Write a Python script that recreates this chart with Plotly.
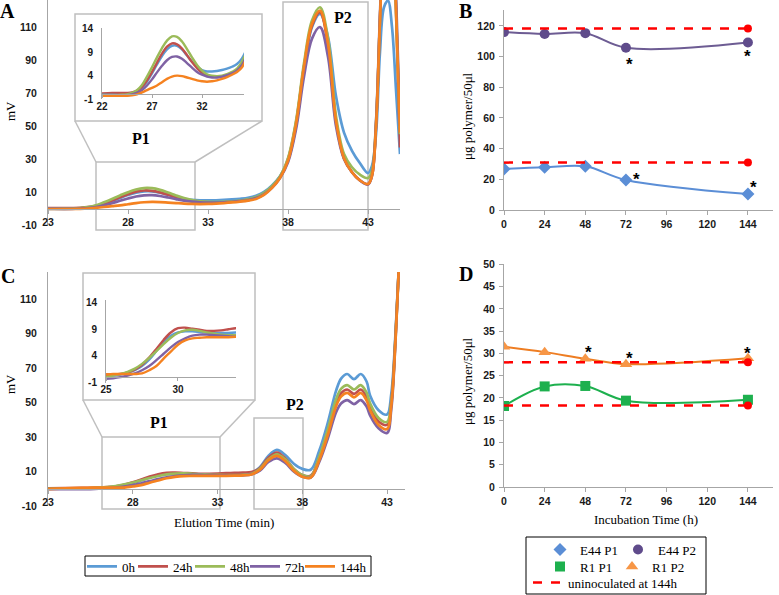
import plotly.graph_objects as go

W, H = 779, 595

# ---------------- data ----------------
time_labels = ["0h", "24h", "48h", "72h", "144h"]

# Panel A: elution profiles (min, mV)
elution_a = [22, 23, 24, 24.5, 25, 25.5, 26, 26.5, 27, 27.5, 28, 28.5, 29, 29.5, 30, 30.5, 31, 31.5,
             32, 32.5, 33, 33.5, 34, 34.5, 35, 35.5, 36, 36.5, 37, 37.5, 38, 38.5, 39, 39.5, 40, 40.5,
             41, 41.5, 42, 42.5, 43, 43.25, 43.5, 43.75, 44, 44.25, 44.5, 44.75, 45]
a_0h = [-0.2, -0.2, -0.2, -0.1, 0.1, 0.5, 1.3, 2.7, 4.5, 6.4, 8.2, 9.6, 10.4, 10.4, 9.6, 8.3, 7.0, 5.9,
        5.2, 4.9, 4.9, 5.0, 5.2, 5.5, 5.9, 6.5, 7.7, 10.0, 14, 19.5, 29, 50, 84, 110, 118, 104,
        68, 46, 35, 27.4, 21.5, 26, 45, 95, 122, 126, 110, 72, 33]
a_24h = [0.2, 0.3, 0.3, 0.3, 0.4, 0.8, 1.6, 3.0, 4.8, 6.8, 8.7, 10.2, 10.9, 10.7, 9.8, 8.4, 6.9, 5.6,
         4.6, 4.1, 3.8, 3.7, 3.8, 4.1, 4.5, 5.2, 6.5, 9.0, 13, 19, 30, 52, 86, 111, 119, 99,
         53, 30.5, 22, 17, 14.8, 20, 50, 115, 175, 200, 185, 120, 37]
a_48h = [0.0, -0.1, -0.1, 0.0, 0.3, 0.9, 2.0, 3.8, 5.8, 7.9, 9.9, 11.5, 12.4, 12.3, 11.3, 9.7, 7.9, 6.3,
         5.1, 4.3, 4.0, 3.9, 4.0, 4.3, 4.8, 5.5, 7.0, 9.4, 13.5, 19.5, 30.5, 53, 88, 114, 122, 103,
         56, 33, 25, 20.5, 18.5, 23, 52, 115, 175, 200, 185, 120, 45]
a_72h = [-0.1, -0.1, -0.2, -0.2, 0.0, 0.3, 0.9, 1.9, 3.2, 4.7, 6.1, 7.3, 8.0, 8.1, 7.6, 6.7, 5.7, 4.8,
         4.2, 3.8, 3.6, 3.6, 3.8, 4.1, 4.5, 5.1, 6.3, 8.6, 12.5, 18.5, 28, 48, 80, 103, 110, 92,
         50, 30, 22, 17, 14.5, 20, 52, 118, 178, 205, 190, 130, 50]
a_144h = [-0.3, -0.3, -0.3, -0.3, -0.2, 0.0, 0.4, 0.9, 1.4, 1.9, 2.6, 3.3, 3.8, 4.0, 3.9, 3.6, 3.3, 3.0,
          2.8, 2.7, 2.8, 3.0, 3.3, 3.7, 4.2, 4.8, 5.8, 8.2, 12.5, 18.5, 29, 51, 86, 112, 120, 100,
          53, 30.5, 22, 17, 14.8, 20, 50, 115, 175, 200, 185, 122, 46]

# Panel C: elution profiles (min, mV)
elution_c = [23, 24, 25, 25.5, 26, 26.5, 27, 27.5, 28, 28.5, 29, 29.5, 30, 30.5, 31, 31.5, 32, 32.5,
             33, 33.5, 34, 34.5, 35, 35.5, 36, 36.5, 37, 37.5, 38, 38.5, 39, 39.5, 40, 40.3, 40.65,
             41.05, 41.45, 41.8, 42, 42.5, 43, 43.25, 43.5, 43.75, 44, 44.25]
c_0h = [0, 0, 0.2, 0.3, 0.5, 0.8, 1.3, 2.1, 3.3, 4.9, 6.6, 7.8, 8.4, 8.6, 8.6, 8.5, 8.4, 8.3,
        8.3, 8.3, 8.4, 8.6, 9.2, 12.5, 19, 22.5, 19.5, 14.5, 11.5, 11, 22, 38, 57, 64, 66.5,
        63.5, 66.5, 62, 54, 45.5, 43, 55, 90, 140, 190, 230]
c_24h = [0.3, 0.4, 0.5, 0.5, 0.6, 0.9, 1.4, 2.3, 3.7, 5.3, 7.0, 8.4, 9.2, 9.3, 9.1, 8.9, 8.7, 8.7,
         8.8, 9.0, 9.2, 9.3, 9.6, 12, 18, 21, 17.5, 11.5, 8, 7.5, 18, 33, 50, 55.5, 57.5,
         55, 57.5, 53, 47, 39, 37, 50, 88, 140, 190, 230]
c_48h = [0, 0, 0.1, 0.3, 0.6, 1.0, 1.6, 2.5, 3.6, 4.9, 6.2, 7.4, 8.3, 8.8, 8.9, 8.7, 8.4, 8.2,
         8.0, 7.9, 7.9, 8.1, 8.6, 11.5, 17, 20, 17, 11.5, 8, 7.2, 18.5, 34, 52, 58, 60,
         57.5, 60, 55.5, 49.5, 41, 38.7, 50, 88, 140, 190, 230]
c_72h = [-0.3, -0.3, -0.3, -0.2, 0, 0.3, 0.7, 1.3, 2.1, 3.2, 4.4, 5.6, 6.6, 7.3, 7.8, 8.0, 8.0, 7.9,
         7.8, 7.7, 7.6, 7.8, 8.3, 10.5, 15.5, 17.6, 15, 10, 7, 6.5, 15.5, 29, 44.5, 49.5, 51.4,
         49, 51.4, 47.5, 42.5, 35, 32.3, 46, 86, 140, 190, 230]
c_144h = [-0.2, 0.2, 0.5, 0.6, 0.6, 0.6, 0.6, 0.7, 1.3, 2.1, 3.5, 4.8, 6.1, 6.9, 7.3, 7.4, 7.5, 7.5,
          7.5, 7.5, 7.6, 7.8, 8.3, 11, 16.5, 19, 16, 10.5, 7, 6.5, 16.5, 31, 48, 53.5, 55.5,
          53, 55.5, 51, 45.5, 37, 34.6, 48, 86, 140, 190, 230]

# Panels B and D: polymer content (h, ug/50ul)
hours = [0, 24, 48, 72, 144]
e44_p1 = [26.7, 27.8, 28.5, 19.6, 10.4]
e44_p2 = [116.0, 114.8, 115.3, 105.8, 109.2]
r1_p1 = [18.2, 22.6, 22.7, 19.4, 19.6]
r1_p2 = [31.5, 30.3, 28.8, 27.6, 28.9]
uninoc_hours = [0, 144]
uninoc_b_p1 = 30.9
uninoc_b_p2 = 118.3
uninoc_d_p1 = 18.3
uninoc_d_p2 = 28.0
star_b_x = [73.8, 144, 78, 147]
star_b_y = [97.8, 102.4, 22.8, 17.0]
star_d_x = [49.6, 73.8, 143.5]
star_d_y = [31.2, 29.7, 30.8]

xt_elution = [23, 28, 33, 38, 43]
yt_elution = [-10, 10, 30, 50, 70, 90, 110]
yt_elution_text = ["-10", "10", "30", "50", "70", "90", "110"]
xt_inset_a = [22, 27, 32]
xt_inset_c = [25, 30]
yt_inset = [-1, 4, 9, 14]
yt_inset_text = ["-1", "4", "9", "14"]
xt_hours = [0, 24, 48, 72, 96, 120, 144]
yt_b = [0, 20, 40, 60, 80, 100, 120]
yt_d = [0, 5, 10, 15, 20, 25, 30, 35, 40, 45, 50]

# ---------------- styling ----------------
series_colors = ["#5B9BD5", "#C0504D", "#9BBB59", "#7F62A4", "#F58220"]
SERIF = "Liberation Serif"
SANS = "Liberation Sans"
AXC = "#A6A6A6"
tickfont = dict(family=SANS, size=10.5, color="#1a1a1a", weight="bold")
tickfont_s = dict(family=SANS, size=10, color="#1a1a1a", weight="bold")


def fx(px):
    return px / W


def fy(py):
    return 1 - py / H


def zero_pos(dom, rng):
    return dom[0] + (0 - rng[0]) / (rng[1] - rng[0]) * (dom[1] - dom[0])


fig = go.Figure()

a_series = [a_0h, a_24h, a_48h, a_72h, a_144h]
c_series = [c_0h, c_24h, c_48h, c_72h, c_144h]
time_legends = ["legend", "legend5", "legend6", "legend7", "legend8"]
for i, lab in enumerate(time_labels):
    col = series_colors[i]
    fig.add_trace(go.Scatter(x=elution_a, y=a_series[i], mode="lines", name=lab,
                             line=dict(color=col, width=2.7, shape="spline"),
                             xaxis="x", yaxis="y", legend=time_legends[i], showlegend=True))
    fig.add_trace(go.Scatter(x=elution_a, y=a_series[i], mode="lines", name=lab,
                             line=dict(color=col, width=2.4, shape="spline"),
                             xaxis="x2", yaxis="y2", showlegend=False))
    fig.add_trace(go.Scatter(x=elution_c, y=c_series[i], mode="lines", name=lab,
                             line=dict(color=col, width=2.7, shape="spline"),
                             xaxis="x3", yaxis="y3", showlegend=False))
    fig.add_trace(go.Scatter(x=elution_c, y=c_series[i], mode="lines", name=lab,
                             line=dict(color=col, width=2.4, shape="spline"),
                             xaxis="x4", yaxis="y4", showlegend=False))

# Panel B
E44P1_C, E44P2_C, E44P2_L = "#5B8ED6", "#5F4B8B", "#6D5C93"
R1P1_C, R1P2_C, R1P2_L = "#1DB04E", "#F79646", "#EE7D22"
RED = "#FF0000"

fig.add_trace(go.Scatter(x=hours, y=e44_p1, mode="lines", line=dict(color=E44P1_C, width=2, shape="spline"),
                         xaxis="x5", yaxis="y5", showlegend=False))
fig.add_trace(go.Scatter(x=hours, y=e44_p2, mode="lines", line=dict(color=E44P2_L, width=2, shape="spline"),
                         xaxis="x5", yaxis="y5", showlegend=False))
fig.add_trace(go.Scatter(x=hours, y=e44_p1, mode="markers", name="E44 P1",
                         marker=dict(symbol="diamond", size=10, color=E44P1_C),
                         xaxis="x5", yaxis="y5", legend="legend2"))
fig.add_trace(go.Scatter(x=hours, y=e44_p2, mode="markers", name="E44 P2",
                         marker=dict(symbol="circle", size=10, color=E44P2_C),
                         xaxis="x5", yaxis="y5", legend="legend9"))
fig.add_trace(go.Scatter(x=uninoc_hours, y=[uninoc_b_p2] * 2, mode="lines",
                         line=dict(color=RED, width=2.5, dash="dash"),
                         xaxis="x5", yaxis="y5", showlegend=False))
fig.add_trace(go.Scatter(x=uninoc_hours, y=[uninoc_b_p1] * 2, mode="lines",
                         line=dict(color=RED, width=2.5, dash="dash"),
                         xaxis="x5", yaxis="y5", showlegend=False))
fig.add_trace(go.Scatter(x=[uninoc_hours[-1]] * 2, y=[uninoc_b_p2, uninoc_b_p1], mode="markers",
                         marker=dict(color=RED, size=8), xaxis="x5", yaxis="y5", showlegend=False))

# Panel D
fig.add_trace(go.Scatter(x=hours, y=r1_p1, mode="lines", line=dict(color=R1P1_C, width=2, shape="spline"),
                         xaxis="x6", yaxis="y6", showlegend=False))
fig.add_trace(go.Scatter(x=hours, y=r1_p2, mode="lines", line=dict(color=R1P2_L, width=2, shape="spline"),
                         xaxis="x6", yaxis="y6", showlegend=False))
fig.add_trace(go.Scatter(x=hours, y=r1_p1, mode="markers", name="R1 P1",
                         marker=dict(symbol="square", size=10, color=R1P1_C),
                         xaxis="x6", yaxis="y6", legend="legend3"))
fig.add_trace(go.Scatter(x=hours, y=r1_p2, mode="markers", name="R1 P2",
                         marker=dict(symbol="triangle-up", size=11, color=R1P2_C),
                         xaxis="x6", yaxis="y6", legend="legend10"))
fig.add_trace(go.Scatter(x=uninoc_hours, y=[uninoc_d_p2] * 2, mode="lines", name="uninoculated at 144h",
                         line=dict(color=RED, width=2.5, dash="dash"),
                         xaxis="x6", yaxis="y6", legend="legend4"))
fig.add_trace(go.Scatter(x=uninoc_hours, y=[uninoc_d_p1] * 2, mode="lines",
                         line=dict(color=RED, width=2.5, dash="dash"),
                         xaxis="x6", yaxis="y6", showlegend=False))
fig.add_trace(go.Scatter(x=[uninoc_hours[-1]] * 2, y=[uninoc_d_p2, uninoc_d_p1], mode="markers",
                         marker=dict(color=RED, size=8), xaxis="x6", yaxis="y6", showlegend=False))

# ---------------- axes ----------------
domA_x, domA_y, rngA_y = [fx(48), fx(400)], [fy(225), fy(0)], [-10, 126.4]
domAi_x, domAi_y, rngAi_y = [fx(102), fx(244)], [fy(99), fy(28)], [-1, 14.2]
domC_x, domC_y, rngC_y = [fx(48), fx(405)], [fy(506), fy(272)], [-10, 125.6]
domCi_x, domCi_y, rngCi_y = [fx(106), fx(236)], [fy(382.5), fy(300)], [-1, 14.5]
domR_x = [fx(504), fx(773)]
domB_y, domD_y = [fy(210), fy(10)], [fy(487), fy(264)]

common = dict(showgrid=False, zeroline=False, showline=True, linecolor=AXC, linewidth=1,
              tickcolor=AXC, fixedrange=True, automargin=False)

fig.update_layout(
    xaxis=dict(domain=domA_x, range=[23, 45], anchor="free", position=zero_pos(domA_y, rngA_y),
               tickvals=xt_elution, ticks="outside", ticklen=4, tickfont=tickfont, **common),
    yaxis=dict(domain=domA_y, range=rngA_y, anchor="x", tickvals=yt_elution, ticktext=yt_elution_text,
               ticks="", ticklabelstandoff=8, tickfont=tickfont, **common),
    xaxis2=dict(domain=domAi_x, range=[22, 36.2], anchor="free", position=zero_pos(domAi_y, rngAi_y),
                tickvals=xt_inset_a, ticks="outside", ticklen=3, tickfont=tickfont_s, **common),
    yaxis2=dict(domain=domAi_y, range=rngAi_y, anchor="x2", tickvals=yt_inset, ticktext=yt_inset_text,
                ticks="", ticklabelstandoff=6, tickfont=tickfont_s, **common),
    xaxis3=dict(domain=domC_x, range=[23, 44.06], anchor="free", position=zero_pos(domC_y, rngC_y),
                tickvals=xt_elution, ticks="outside", ticklen=4, tickfont=tickfont, **common),
    yaxis3=dict(domain=domC_y, range=rngC_y, anchor="x3", tickvals=yt_elution, ticktext=yt_elution_text,
                ticks="", ticklabelstandoff=8, tickfont=tickfont, **common),
    xaxis4=dict(domain=domCi_x, range=[25, 34.03], anchor="free", position=zero_pos(domCi_y, rngCi_y),
                tickvals=xt_inset_c, ticks="outside", ticklen=3, tickfont=tickfont_s, **common),
    yaxis4=dict(domain=domCi_y, range=rngCi_y, anchor="x4", tickvals=yt_inset, ticktext=yt_inset_text,
                ticks="", ticklabelstandoff=6, tickfont=tickfont_s, **common),
    xaxis5=dict(domain=domR_x, range=[0, 158.8], anchor="y5", tickvals=xt_hours, ticks="outside",
                ticklen=4, tickfont=tickfont, **common),
    yaxis5=dict(domain=domB_y, range=[0, 130.4], anchor="x5", tickvals=yt_b, ticks="outside",
                ticklen=4, ticklabelstandoff=2, tickfont=tickfont, **common),
    xaxis6=dict(domain=domR_x, range=[0, 158.8], anchor="y6", tickvals=xt_hours, ticks="outside",
                ticklen=4, tickfont=tickfont, **common),
    yaxis6=dict(domain=domD_y, range=[0, 50.1], anchor="x6", tickvals=yt_d, ticks="outside",
                ticklen=4, ticklabelstandoff=2, tickfont=tickfont, **common),
)

# ---------------- legends (one entry per legend box, placed like the original) ----------------
legfont = dict(family=SERIF, size=13, color="black")
LEG_OFF = 14.5  # distance from legend top to entry centre


def leg(px_text, py_centre):
    return dict(x=fx(px_text - 40), y=fy(py_centre - LEG_OFF), xanchor="left", yanchor="top",
                orientation="h", bgcolor="rgba(0,0,0,0)", borderwidth=0, font=legfont, itemwidth=30)


time_text_x = [122, 173, 230, 285, 340]
legend_layout = {name: leg(tx, 566) for name, tx in zip(time_legends, time_text_x)}
legend_layout["legend2"] = leg(580, 549)
legend_layout["legend9"] = leg(658, 549)
legend_layout["legend3"] = leg(580, 566)
legend_layout["legend10"] = leg(652, 566)
legend_layout["legend4"] = leg(568, 582)
fig.update_layout(**legend_layout)

# ---------------- decorations (zoom boxes, connectors, legend frames) ----------------
BOX = "#BFBFBF"


def rect(x0, y0, x1, y1, fill="rgba(0,0,0,0)", color=BOX, width=1.5):
    fig.add_shape(type="rect", xref="paper", yref="paper", x0=fx(x0), x1=fx(x1), y0=fy(y1), y1=fy(y0),
                  line=dict(color=color, width=width), fillcolor=fill, layer="below")


def seg(x0, y0, x1, y1):
    fig.add_shape(type="line", xref="paper", yref="paper", x0=fx(x0), x1=fx(x1), y0=fy(y0), y1=fy(y1),
                  line=dict(color=BOX, width=1.5), layer="below")


rect(75, 14, 262, 121, fill="white")
rect(96, 162, 195, 230)
rect(283, 2, 368, 230)
seg(75, 121, 96, 162)
seg(262, 121, 195, 162)
rect(83, 273, 255, 400, fill="white")
rect(102, 437, 220, 509)
rect(254, 418, 303, 509)
seg(83, 400, 102, 437)
seg(255, 400, 220, 437)
rect(85, 556, 371, 576, color="black", width=1)
rect(526, 537, 706, 594, color="black", width=1)

# ---------------- text ----------------


def label(txt, px, py, size=13, bold=False, angle=0, family=SERIF):
    fig.add_annotation(text=txt, x=fx(px), y=fy(py), xref="paper", yref="paper", showarrow=False,
                       xanchor="center", yanchor="middle", textangle=angle,
                       font=dict(family=family, size=size, color="black",
                                 weight="bold" if bold else "normal"))


label("A", 8, 11, size=20, bold=True)
label("B", 466, 11, size=20, bold=True)
label("C", 8, 276, size=20, bold=True)
label("D", 466, 274, size=20, bold=True)
label("P1", 141, 138, size=16, bold=True)
label("P2", 343, 17, size=16, bold=True)
label("P1", 159, 422, size=16, bold=True)
label("P2", 295, 404, size=16, bold=True)
label("mV", 10, 111, angle=-90)
label("mV", 10, 384, angle=-90)
label("μg polymer/50μl", 468, 116, angle=-90)
label("μg polymer/50μl", 468, 381, angle=-90)
label("Elution Time (min)", 224, 522)
label("Incubation Time (h)", 646, 519)

for sx, sy in zip(star_b_x, star_b_y):
    fig.add_annotation(text="*", x=sx, y=sy, xref="x5", yref="y5", showarrow=False, yshift=-4,
                       font=dict(family=SANS, size=17, color="black", weight="bold"))
for sx, sy in zip(star_d_x, star_d_y):
    fig.add_annotation(text="*", x=sx, y=sy, xref="x6", yref="y6", showarrow=False, yshift=-4,
                       font=dict(family=SANS, size=17, color="black", weight="bold"))

fig.update_layout(width=W, height=H, margin=dict(l=0, r=0, t=0, b=0, autoexpand=False),
                  paper_bgcolor="white", plot_bgcolor="rgba(0,0,0,0)")

fig.write_html("out.html", config={"displayModeBar": False},
               post_script="document.body.style.margin='0';document.body.style.overflow='hidden';")
